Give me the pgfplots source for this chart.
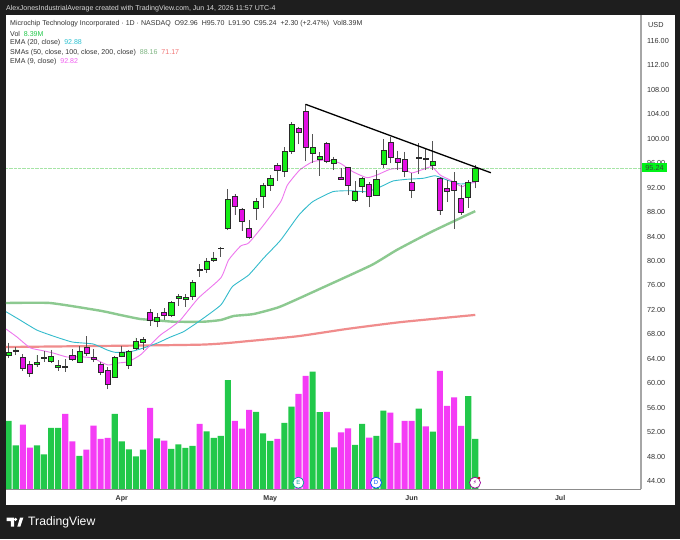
\documentclass[border=0pt]{standalone}
\usepackage{fontspec}
\setmainfont{Liberation Sans}
\newfontfamily\dejavu{DejaVu Sans}
\usepackage{pgfplots}
\pgfplotsset{compat=1.18}
\usepgfplotslibrary{statistics}
\definecolor{bgdark}{HTML}{1E1E1E}
\definecolor{cup}{HTML}{14EE14}
\definecolor{cdn}{HTML}{E410E4}
\definecolor{vup}{HTML}{22C84A}
\definecolor{vdn}{HTML}{F43CF5}
\definecolor{wick}{HTML}{555555}
\definecolor{cborder}{HTML}{2A2A2A}
\definecolor{ema20}{HTML}{33BBCC}
\definecolor{ema9}{HTML}{EE77EE}
\definecolor{sma50}{HTML}{8CC990}
\definecolor{sma200}{HTML}{EF8080}
\definecolor{txt}{HTML}{333333}
\newcommand{\fs}{\fontsize{7.3}{9}\selectfont}
\newcommand{\ft}{\fontsize{7.05}{9}\selectfont}
\newcommand{\up}[5]{\addplot[draw=cborder,line width=0.6pt,fill=cup,boxplot prepared={draw position=#1,lower whisker=#4,lower quartile=#2,median=#5,upper quartile=#5,upper whisker=#3}] coordinates {};}
\newcommand{\dn}[5]{\addplot[draw=cborder,line width=0.6pt,fill=cdn,boxplot prepared={draw position=#1,lower whisker=#4,lower quartile=#5,median=#5,upper quartile=#2,upper whisker=#3}] coordinates {};}
\begin{document}
\begin{tikzpicture}[x=1pt,y=1pt]
\useasboundingbox (0,0) rectangle (680,539);
\fill[bgdark] (0,0) rectangle (680,539);
\fill[white] (6,34) rectangle (674.7,524);
% volume
\begin{axis}[at={(6pt,49.7pt)},anchor=south west,scale only axis,width=635pt,height=474.3pt,
  xmin=-0.378,xmax=89.44,ymin=0,ymax=79.1,axis lines=none,ybar,bar width=6.1pt,bar shift=0pt]
\addplot[fill=vup,draw=none] coordinates {(0,11.40)(1,7.34)(4,7.34)(5,5.84)(6,10.23)(7,10.23)(10,5.56)(15,12.57)(16,8.01)(17,6.67)(18,5.51)(19,6.62)(21,8.51)(23,6.73)(24,7.51)(25,6.90)(26,7.23)(28,9.68)(29,8.57)(30,8.90)(31,18.19)(35,12.90)(36,9.34)(37,8.06)(39,11.07)(40,13.79)(43,19.63)(44,12.85)(46,7.01)(49,7.40)(50,10.90)(52,8.90)(53,13.13)(58,13.46)(60,9.62)(65,15.52)(66,8.39)};
\addplot[fill=vdn,draw=none] coordinates {(2,10.79)(3,6.95)(8,12.57)(9,8.01)(11,6.62)(12,10.62)(13,8.40)(14,8.57)(20,13.57)(22,8.12)(27,10.90)(32,11.40)(33,10.12)(34,13.24)(38,8.40)(41,15.91)(42,18.91)(45,12.90)(47,9.51)(48,10.18)(51,8.62)(54,12.79)(55,7.73)(56,11.40)(57,11.40)(59,10.51)(61,19.74)(62,13.90)(63,15.35)(64,10.57)};
\end{axis}
% price
\begin{axis}[at={(6pt,49.7pt)},anchor=south west,scale only axis,width=635pt,height=474.3pt,
  xmin=-0.378,xmax=89.44,ymin=42.63,ymax=120.26,
  axis x line*=bottom,axis y line*=right,
  x axis line style={-,draw=black!45,line width=0.8pt},
  y axis line style={-,draw=black!35,line width=2pt},
  major tick length=0pt,
  ytick={44,48,...,116},
  yticklabel style={font=\fs,text=txt,anchor=west,xshift=2.5pt},
  /pgf/number format/assume math mode=true,
  /pgf/number format/.cd,fixed,fixed zerofill,precision=2,/pgfplots/.cd,
  xtick={16,37,57,78},xticklabels={Apr,May,Jun,Jul},
  xticklabel style={font=\ft\bfseries,text=black!80,yshift=-2.5pt},
  boxplot/draw direction=y,
  boxplot/box extend=0.72,boxplot/whisker extend=0,
  boxplot/every whisker/.style={draw=wick,line width=0.8pt},
  clip mode=individual]
\addplot[sma200,line width=2.2pt,opacity=.9,smooth,tension=.3] coordinates {(-0.38,65.92)(27,66.3)(34,66.9)(41,67.7)(48,68.9)(55.5,70.0)(66,71.17)};
\addplot[sma50,line width=2.4pt,smooth,tension=.3] coordinates {(-0.38,73.12)(5.86,73.12)(12.95,71.86)(15.79,71.16)(18.62,70.50)(20.99,70.29)(23.30,70.06)(27.56,70.06)(30,70.34)(31.85,71.0)(34.65,71.32)(38.38,72.51)(44.50,75.69)(51.35,79.34)(54.88,81.79)(59.83,84.79)(66,88.16)};
\addplot[ema20,line width=0.9pt,smooth,tension=.3] coordinates {(-0.38,71.70)(1.60,70.34)(3.97,68.70)(6.28,67.72)(8.98,66.74)(11.96,66.41)(13.94,65.43)(15.08,65.05)(17.21,65.15)(19.05,65.75)(21.04,66.57)(22.88,67.55)(24.72,68.42)(26.85,70.06)(30,72.79)(31.63,75.79)(33.94,77.70)(36.07,80.48)(38.48,83.43)(41.05,87.52)(43.0,89.70)(45.85,91.34)(48.26,91.50)(50.67,91.34)(52.52,92.10)(54.36,93.09)(56.35,93.37)(58.62,93.53)(60.32,93.95)(62.02,93.25)(63.87,92.60)(66,92.88)};
\addplot[ema9,line width=0.9pt,smooth,tension=.3] coordinates {(-0.38,68.86)(1.13,67.60)(3.02,65.80)(4.87,65.31)(6.28,64.94)(8.27,64.28)(10.11,64.33)(11.96,64.12)(12.95,63.51)(14.09,62.97)(15.50,63.30)(16.92,63.51)(18.62,64.61)(20.04,66.25)(21.46,67.88)(22.88,69.03)(24.30,70.34)(26.85,73.94)(30,77.21)(31.11,80.16)(32.81,82.45)(33.94,82.94)(36.07,85.89)(38.48,89.70)(39.43,92.43)(41.17,94.89)(43.0,96.25)(45.0,96.52)(46.84,96.03)(48.69,94.61)(50.67,93.63)(52.09,94.07)(53.93,95.0)(55.78,95.17)(57.01,94.40)(58.62,95.0)(59.85,95.43)(61.03,94.07)(62.45,93.25)(64.11,92.15)(65.0,92.76)(66,92.82)};
\addplot[green!70!black,densely dotted,line width=0.3pt,opacity=.35] coordinates {(-0.38,95.24)(89.44,95.24)};
% candles: index, open, high, low, close
\up{0}{64.61}{66.63}{64.06}{64.99}
\up{1}{65.15}{65.97}{64.61}{65.43}
\dn{2}{64.17}{64.72}{62.04}{62.37}
\dn{3}{63.13}{63.68}{61.06}{61.61}
\up{4}{63.03}{64.61}{62.70}{63.46}
\up{5}{64.01}{65.26}{63.52}{64.23}
\up{6}{63.63}{65.43}{63.35}{64.33}
\up{7}{62.53}{63.79}{62.04}{62.92}
\dn{8}{62.70}{63.90}{61.88}{62.59}
\dn{9}{64.55}{65.59}{63.68}{63.95}
\up{10}{63.41}{66.14}{63.24}{65.21}
\dn{11}{65.86}{67.72}{64.50}{64.83}
\dn{12}{64.17}{65.64}{63.41}{63.84}
\dn{13}{63.13}{63.52}{61.28}{61.72}
\dn{14}{62.04}{62.70}{58.99}{59.75}
\up{15}{61.01}{64.44}{60.90}{64.23}
\up{16}{64.44}{66.14}{64.23}{65.04}
\up{17}{62.92}{65.43}{62.32}{65.21}
\up{18}{65.64}{67.44}{65.43}{66.84}
\up{19}{66.68}{67.50}{65.43}{67.12}
\dn{20}{71.59}{72.14}{69.36}{70.34}
\up{21}{70.07}{71.43}{69.14}{70.83}
\dn{22}{71.54}{72.30}{70.34}{71.10}
\up{23}{71.05}{73.39}{70.83}{73.18}
\up{24}{73.83}{74.59}{72.63}{74.16}
\up{25}{73.78}{74.59}{72.52}{74.10}
\up{26}{74.16}{76.89}{73.61}{76.50}
\dn{27}{78.58}{79.50}{77.43}{78.41}
\up{28}{78.58}{80.43}{78.09}{80.00}
\up{29}{80.05}{81.41}{79.89}{80.49}
\up{30}{82.01}{82.34}{80.70}{82.12}
\up{31}{85.29}{91.78}{85.07}{90.14}
\dn{32}{90.63}{90.96}{87.52}{89.00}
\dn{33}{88.51}{88.72}{84.91}{86.43}
\dn{34}{85.34}{86.71}{83.54}{83.81}
\up{35}{88.62}{90.25}{86.71}{89.71}
\up{36}{90.53}{92.82}{88.72}{92.43}
\up{37}{92.33}{94.07}{91.51}{93.47}
\dn{38}{95.70}{95.98}{93.14}{94.77}
\up{39}{94.72}{98.59}{93.79}{97.99}
\up{40}{97.99}{102.69}{97.56}{102.36}
\dn{41}{101.70}{101.98}{99.09}{101.05}
\dn{42}{104.54}{105.63}{96.36}{98.59}
\up{43}{97.56}{100.72}{96.08}{98.54}
\up{44}{96.58}{97.78}{93.96}{97.18}
\dn{45}{99.19}{99.41}{95.98}{96.25}
\up{46}{95.92}{97.07}{94.88}{96.58}
\dn{47}{93.63}{95.16}{93.25}{93.41}
\dn{48}{95.27}{95.43}{90.79}{92.37}
\up{49}{89.97}{93.08}{89.59}{91.34}
\up{50}{92.16}{93.79}{91.17}{93.52}
\dn{51}{92.54}{92.87}{88.77}{90.63}
\up{52}{90.74}{94.88}{90.63}{93.41}
\up{53}{95.87}{99.96}{95.20}{98.05}
\dn{54}{99.41}{100.34}{95.98}{96.90}
\dn{55}{96.85}{98.05}{94.89}{96.09}
\dn{56}{96.63}{97.89}{93.69}{94.61}
\dn{57}{92.87}{94.34}{90.30}{91.50}
\up{58}{96.80}{99.25}{94.23}{97.01}
\dn{59}{96.74}{98.27}{94.89}{96.63}
\up{60}{95.60}{99.63}{94.89}{96.25}
\dn{61}{93.58}{93.69}{87.57}{88.34}
\dn{62}{91.89}{93.25}{89.65}{91.34}
\dn{63}{92.98}{94.56}{85.28}{91.50}
\dn{64}{90.25}{92.43}{87.52}{87.90}
\up{65}{90.41}{93.25}{88.72}{92.87}
\up{66}{92.96}{95.70}{91.90}{95.24}
\addplot[black,line width=1.3pt] coordinates {(42,105.64)(68.2,94.44)};
\end{axis}
% event markers
\node[circle,draw=teal!80!cyan,fill=white,line width=0.7pt,minimum size=11pt,inner sep=0pt,text=teal!80!cyan] at (298.3,56.3) {\fontsize{6}{7}\selectfont E};
\node[circle,draw=blue!70!cyan,fill=white,line width=0.7pt,minimum size=11pt,inner sep=0pt,text=blue!70!cyan] at (376,56.3) {\fontsize{6}{7}\selectfont D};
\node[circle,draw=violet!80!magenta,fill=white,line width=0.7pt,minimum size=11pt,inner sep=0pt,text=violet!80!magenta] at (475,56.3) {\dejavu\fontsize{6}{7}\selectfont ⚡};
\fill[red!80!black] (479,61) circle (1.3);
% last price label
\node[fill=green!90!cyan!95!black,minimum width=25.6pt,minimum height=9.6pt,inner sep=0pt,text=black!75] at (654.5,371.5) {\fs 95.24};
\node[anchor=west,inner sep=0pt,text=txt] at (648,514.5) {\fs USD};
% header
\node[anchor=west,inner sep=0pt,text=white!85!black] at (6,530) {\ft AlexJonesIndustrialAverage created with TradingView.com, Jun 14, 2026 11:57 UTC-4};
\node[anchor=west,inner sep=0pt,text=txt] at (10,515) {\ft Microchip Technology Incorporated · 1D · NASDAQ\ \ O92.96\ \ H95.70\ \ L91.90\ \ C95.24\ \ +2.30 (+2.47\%)\ \ Vol8.39M};
\node[anchor=west,inner sep=0pt,text=txt] at (10,505.5) {\ft Vol\ \ \textcolor{vup}{8.39M}};
\node[anchor=west,inner sep=0pt,text=txt] at (10,496) {\ft EMA (20, close)\ \ \textcolor{ema20!90!cyan}{92.88}};
\node[anchor=west,inner sep=0pt,text=txt] at (10,486.3) {\ft SMAs (50, close, 100, close, 200, close)\ \ \textcolor{sma50!90!black}{88.16}\ \ \textcolor{sma200!90!red}{71.17}};
\node[anchor=west,inner sep=0pt,text=txt] at (10,477) {\ft EMA (9, close)\ \ \textcolor{ema9!80!magenta}{92.82}};
% logo
\fill[white] (6.7,21.3) -- (14,21.3) -- (14,12.3) -- (10.8,12.3) -- (10.8,18) -- (6.7,18) -- cycle;
\fill[white] (15.6,19.6) circle (1.7);
\fill[white] (17.3,12.3) -- (20,21.3) -- (23.3,21.3) -- (20.3,12.3) -- cycle;
\node[anchor=west,inner sep=0pt,text=white] at (28,16.8) {\fontsize{12.2}{14}\selectfont TradingView};
\end{tikzpicture}
\end{document}
